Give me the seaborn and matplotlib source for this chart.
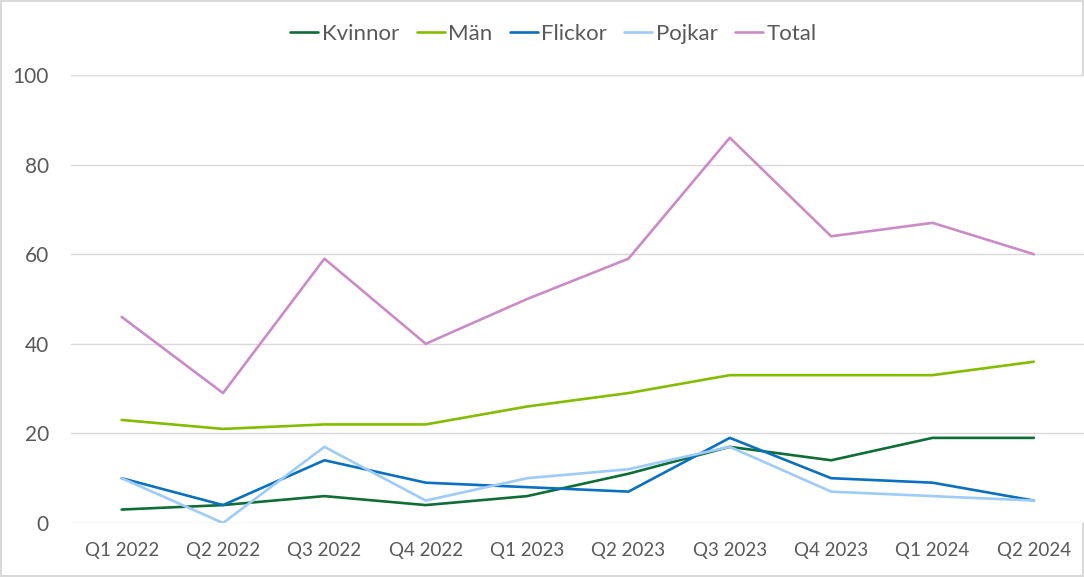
import matplotlib.pyplot as plt
import pandas as pd
import seaborn as sns

quarters = ["Q1 2022", "Q2 2022", "Q3 2022", "Q4 2022", "Q1 2023",
            "Q2 2023", "Q3 2023", "Q4 2023", "Q1 2024", "Q2 2024"]
kvinnor = [3, 4, 6, 4, 6, 11, 17, 14, 19, 19]
man = [23, 21, 22, 22, 26, 29, 33, 33, 33, 36]
flickor = [10, 4, 14, 9, 8, 7, 19, 10, 9, 5]
pojkar = [10, 0, 17, 5, 10, 12, 17, 7, 6, 5]
total = [46, 29, 59, 40, 50, 59, 86, 64, 67, 60]

series = {"Kvinnor": kvinnor, "Män": man, "Flickor": flickor,
          "Pojkar": pojkar, "Total": total}
colors = {"Kvinnor": "#0E6E36", "Män": "#84BD00", "Flickor": "#0A70C0",
          "Pojkar": "#9DCBFA", "Total": "#CB8BC4"}

rows = []
for name, vals in series.items():
    for q, v in zip(quarters, vals):
        rows.append({"quarter": q, "value": v, "serie": name})
df = pd.DataFrame(rows)

sns.set_style("white")
plt.rcParams['font.family'] = ['Lato', 'DejaVu Sans']

fig = plt.figure(figsize=(10.84, 5.77), dpi=100)
fig.patch.set_edgecolor("#D9D9D9")
fig.patch.set_linewidth(1.5)
ax = fig.add_axes([0.0655, 0.0936, 0.935, 0.7764])

sns.lineplot(data=df, x="quarter", y="value", hue="serie", palette=colors,
             linewidth=1.9, ax=ax, sort=False)

ax.set_xlim(-0.5, len(quarters) - 0.5)
ax.set_ylim(0, 100)
ax.set_yticks(range(0, 101, 20))
ax.yaxis.grid(True, color="#D9D9D9", linewidth=1)
ax.set_axisbelow(True)
for s in ax.spines.values():
    s.set_visible(False)
ax.tick_params(axis="both", length=0, colors="#595959")
ax.tick_params(axis="x", pad=14, labelsize=13.5)
ax.tick_params(axis="y", pad=16, labelsize=15)
ax.set_xlabel("")
ax.set_ylabel("")

handles, labels = ax.get_legend_handles_labels()
ax.legend(handles, labels, loc="center", bbox_to_anchor=(0.476, 1.0915),
          ncol=5, frameon=False, fontsize=16, handlelength=1.26,
          handletextpad=0.14, columnspacing=0.8, labelcolor="#595959")

plt.savefig("out.png", dpi=100)
